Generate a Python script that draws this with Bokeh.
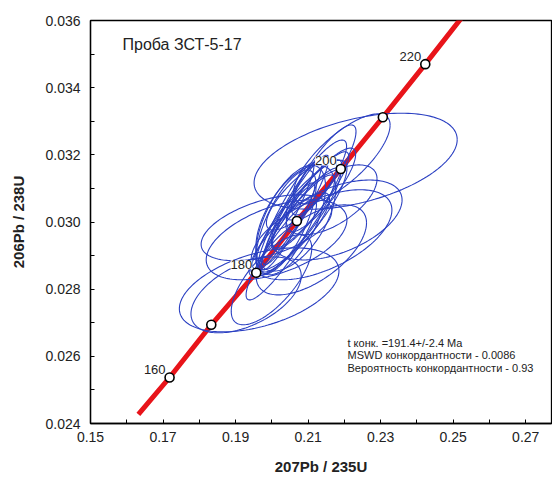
import numpy as np
from bokeh.plotting import figure
from bokeh.models import FixedTicker, NumeralTickFormatter, Range1d, ColumnDataSource, Label
from bokeh.core.properties import value
from bokeh.embed import file_html
from bokeh.resources import INLINE

# ---- data ----
title_text = "Проба ЗСТ-5-17"
x_label = "207Pb / 235U"
y_label = "206Pb / 238U"
x_ticks = [0.15, 0.17, 0.19, 0.21, 0.23, 0.25, 0.27]
y_ticks = [0.024, 0.026, 0.028, 0.030, 0.032, 0.034, 0.036]

# concordia (line ends + age marks)
concordia_x = [0.1632, 0.1718, 0.1833, 0.1957, 0.2069, 0.2190, 0.2306, 0.2423, 0.2539]
concordia_y = [0.02427, 0.02537, 0.02694, 0.02849, 0.03003, 0.03158, 0.03312, 0.03470, 0.03630]
marker_ages = [160, 170, 180, 190, 200, 210, 220]
marker_x = [0.1718, 0.1833, 0.1957, 0.2069, 0.2190, 0.2306, 0.2423]
marker_y = [0.02537, 0.02694, 0.02849, 0.03003, 0.03158, 0.03312, 0.03470]
labelled_ages = [160, 180, 200, 220]

# ellipse centres (207/235, 206/238), half-widths and error correlation
ell_x = [0.2231, 0.2193, 0.2143, 0.1985, 0.2013, 0.1965, 0.1929, 0.2082, 0.2068, 0.2054,
         0.2096, 0.2048, 0.2137, 0.2179, 0.2109, 0.2082, 0.2123, 0.2026, 0.1999, 0.2165,
         0.2039, 0.2066, 0.2080, 0.2107, 0.2030, 0.2135, 0.2052, 0.2066, 0.2039]
ell_y = [0.03181, 0.03188, 0.03155, 0.02983, 0.02947, 0.02798, 0.02783, 0.03021, 0.02991, 0.03021,
         0.03051, 0.02962, 0.02962, 0.03006, 0.02917, 0.03080, 0.03125, 0.02917, 0.02828, 0.03066,
         0.03021, 0.03036, 0.03006, 0.03066, 0.02982, 0.03095, 0.03006, 0.03012, 0.03000]
ell_sx = [0.0280, 0.0133, 0.0089, 0.0180, 0.0194, 0.0220, 0.0152, 0.0125, 0.0105, 0.0083,
          0.0097, 0.0111, 0.0194, 0.0180, 0.0152, 0.0097, 0.0083, 0.0097, 0.0111, 0.0125,
          0.0077, 0.0091, 0.0110, 0.0105, 0.0088, 0.0096, 0.0096, 0.0110, 0.0083]
ell_sy = [0.00143, 0.00134, 0.00134, 0.00098, 0.00119, 0.00125, 0.00113, 0.00163, 0.00149, 0.00163,
          0.00134, 0.00125, 0.00134, 0.00119, 0.00134, 0.00104, 0.00119, 0.00149, 0.00134, 0.00104,
          0.00155, 0.00163, 0.00155, 0.00143, 0.00134, 0.00125, 0.00163, 0.00158, 0.00155]
ell_rho = [0.45, 0.75, 0.85, 0.50, 0.50, 0.45, 0.50, 0.85, 0.90, 0.92,
           0.88, 0.85, 0.55, 0.50, 0.60, 0.80, 0.85, 0.90, 0.70, 0.60,
           0.94, 0.93, 0.90, 0.90, 0.92, 0.85, 0.60, 0.55, 0.70]

info_lines = ["t конк. =191.4+/-2.4 Ma",
              "MSWD конкордантности - 0.0086",
              "Вероятность конкордантности - 0.93"]

FONT = "Liberation Sans"

# ---- figure ----
p = figure(width=552, height=477, output_backend="svg", toolbar_location=None,
           x_range=Range1d(0.15, 0.2771), y_range=Range1d(0.024, 0.036),
           min_border_left=90, min_border_right=1, min_border_top=20, min_border_bottom=53)
p.background_fill_color = "white"
p.border_fill_color = "white"
p.xgrid.visible = False
p.ygrid.visible = False
p.outline_line_color = "black"
p.outline_line_width = 1.3

xminor = [round(t + 0.01, 3) for t in x_ticks]
yminor = [round(t + 0.001, 4) for t in y_ticks[:-1]]
p.xaxis.ticker = FixedTicker(ticks=x_ticks, minor_ticks=xminor)
p.yaxis.ticker = FixedTicker(ticks=y_ticks, minor_ticks=yminor)
p.xaxis.formatter = NumeralTickFormatter(format="0.00")
p.yaxis.formatter = NumeralTickFormatter(format="0.000")
for ax in (p.xaxis, p.yaxis):
    ax.major_tick_in = 4
    ax.major_tick_out = 0
    ax.minor_tick_in = 4
    ax.minor_tick_out = 0
    ax.axis_line_color = "black"
    ax.axis_line_width = 1.3
    ax.major_tick_line_color = "black"
    ax.minor_tick_line_color = "black"
    ax.major_label_text_font = FONT
    ax.major_label_text_font_size = "14px"
    ax.major_label_text_color = "#222222"
    ax.axis_label_text_font = FONT
    ax.axis_label_text_font_style = "bold"
    ax.axis_label_text_font_size = "15px"
    ax.axis_label_text_color = "#222222"
p.xaxis.axis_label = x_label
p.yaxis.axis_label = y_label
p.xaxis.major_label_standoff = 8
p.yaxis.major_label_standoff = 10
p.xaxis.axis_label_standoff = 13
p.yaxis.axis_label_standoff = 15

# concordia curve
p.line(concordia_x, concordia_y, line_color="#e8141a", line_width=5)

# ellipses
theta = np.linspace(0, 2 * np.pi, 160)
xs, ys = [], []
for x0, y0, sx, sy, r in zip(ell_x, ell_y, ell_sx, ell_sy, ell_rho):
    xs.append(list(x0 + sx * np.cos(theta)))
    ys.append(list(y0 + sy * (r * np.cos(theta) + np.sqrt(1 - r * r) * np.sin(theta))))
p.multi_line(xs, ys, line_color="#2b40c2", line_width=1.1)

# age markers
p.scatter(marker_x, marker_y, size=9, fill_color="white", line_color="black", line_width=1.6)

lab_x = [marker_x[marker_ages.index(a)] for a in labelled_ages]
lab_y = [marker_y[marker_ages.index(a)] for a in labelled_ages]
lab_src = ColumnDataSource(dict(x=lab_x, y=lab_y, t=[str(a) for a in labelled_ages]))
p.text("x", "y", text="t", source=lab_src, text_align="right", text_baseline="middle",
       x_offset=-4, y_offset=-8, text_font=value(FONT), text_font_size="13px",
       text_color="#222222", background_fill_color="white")

# annotations
p.add_layout(Label(x=32, y=379, x_units="screen", y_units="screen", text=title_text,
                   text_font=FONT, text_font_size="16px", text_color="#222222",
                   text_baseline="middle"))
for i, line in enumerate(info_lines):
    p.add_layout(Label(x=257, y=81 - i * 12.5, x_units="screen", y_units="screen", text=line,
                       text_font=FONT, text_font_size="11px", text_color="#222222",
                       text_baseline="middle"))

open("out.html", "w").write(file_html(p, INLINE))
